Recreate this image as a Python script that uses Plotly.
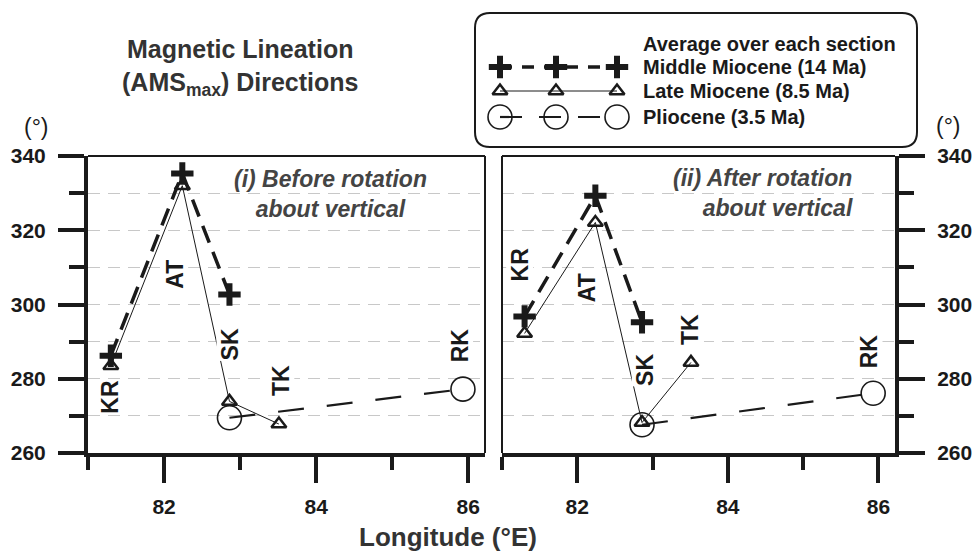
import plotly.graph_objects as go

# ---------------- data ----------------
site_names = ["KR", "AT", "SK", "TK", "RK"]
site_lon = [81.30, 82.24, 82.86, 83.51, 85.93]

mm_idx = [0, 1, 2]      # Middle Miocene sites (KR, AT, SK)
lm_idx = [0, 1, 2, 3]   # Late Miocene sites (KR, AT, SK, TK)
pl_idx = [2, 4]         # Pliocene sites (SK, RK)

mm_before = [286.2, 335.3, 302.7]
lm_before = [283.5, 332.0, 273.9, 267.8]
pl_before = [269.5, 277.2]

mm_after = [296.8, 329.3, 295.2]
lm_after = [292.2, 322.1, 268.2, 284.4]
pl_after = [267.6, 276.1]

x_major = [82, 84, 86]
x_minor = [81, 83, 85]
y_major = [260, 280, 300, 320, 340]
y_minor = [270, 290, 310, 330]

# label anchor positions (lon, deg) for rotated site labels
lab_before = [(81.29, 275.2), (82.14, 308.2), (82.87, 289.3), (83.53, 279.5), (85.89, 289.0)]
lab_after = [(81.24, 310.8), (82.14, 304.6), (82.90, 282.4), (83.50, 293.2), (85.87, 287.3)]

# ---------------- style ----------------
W, H = 974, 551
FONT = "Liberation Sans, Arial, sans-serif"
INK = "#1a1a1a"
GRID = "#c8c8c8"

mm_line = dict(color=INK, width=3.5, dash="18px,10px")
lm_line = dict(color=INK, width=1)
pl_line = dict(color=INK, width=2.2, dash="26px,23px")
mm_marker = dict(symbol="cross-thin", size=16, line=dict(color=INK, width=6), color=INK)
lm_marker = dict(symbol="triangle-up-open", size=13, line=dict(color=INK, width=2.5), color=INK)
pl_marker = dict(symbol="circle-open", size=24, line=dict(color=INK, width=1.6), color=INK)

fig = go.Figure()


def add_panel(xa, ya, mm, lm, pl):
    fig.add_trace(go.Scatter(x=[site_lon[i] for i in lm_idx], y=lm, mode="lines+markers",
                             line=lm_line, marker=lm_marker, xaxis=xa, yaxis=ya,
                             showlegend=False, hoverinfo="skip"))
    fig.add_trace(go.Scatter(x=[site_lon[i] for i in pl_idx], y=pl, mode="lines+markers",
                             line=pl_line, marker=pl_marker, xaxis=xa, yaxis=ya,
                             showlegend=False, hoverinfo="skip"))
    fig.add_trace(go.Scatter(x=[site_lon[i] for i in mm_idx], y=mm, mode="lines+markers",
                             line=mm_line, marker=mm_marker, xaxis=xa, yaxis=ya,
                             showlegend=False, hoverinfo="skip"))


add_panel("x", "y", mm_before, lm_before, pl_before)
add_panel("x2", "y2", mm_after, lm_after, pl_after)

# ---------------- legend sample (pixel canvas axis) ----------------
leg_x = [500, 556, 617]
leg_rows = {"mm": 67, "lm": 91, "pl": 117}
fig.add_trace(go.Scatter(x=leg_x, y=[leg_rows["lm"]] * 3, mode="lines+markers",
                         line=lm_line, marker=lm_marker, xaxis="x3", yaxis="y3",
                         showlegend=False, hoverinfo="skip"))
fig.add_trace(go.Scatter(x=leg_x, y=[leg_rows["pl"]] * 3, mode="lines+markers",
                         line=dict(color=INK, width=2.2, dash="22px,17px"), marker=pl_marker,
                         xaxis="x3", yaxis="y3", showlegend=False, hoverinfo="skip"))
fig.add_trace(go.Scatter(x=leg_x, y=[leg_rows["mm"]] * 3, mode="lines+markers",
                         line=dict(color=INK, width=3.5, dash="12px,10px"), marker=mm_marker,
                         xaxis="x3", yaxis="y3", showlegend=False, hoverinfo="skip"))

# ---------------- axes ----------------
dom_y = [1 - 453 / H, 1 - 156 / H]
dom_x1 = [88 / W, 485 / W]
dom_x2 = [502 / W, 895 / W]
tickfont = dict(family=FONT, size=21, color=INK, weight="bold")

xcommon = dict(range=[81, 86.22], tickvals=x_major, ticktext=[str(v) for v in x_major],
               ticks="outside", ticklen=26, tickwidth=4, tickcolor=INK, automargin=False,
               showline=True, linewidth=4, linecolor=INK, showgrid=False, zeroline=False,
               tickfont=tickfont, ticklabelstandoff=6, fixedrange=True,
               minor=dict(tickvals=x_minor, ticks="outside", ticklen=13, tickwidth=4,
                          tickcolor=INK, showgrid=False))
ycommon = dict(range=[260, 340], tickvals=y_major, ticktext=[str(v) for v in y_major],
               ticks="outside", ticklen=26, tickwidth=4, tickcolor=INK, automargin=False,
               showline=True, linewidth=4, linecolor=INK, zeroline=False,
               showgrid=True, gridcolor=GRID, griddash="12px,8px", gridwidth=1,
               tickfont=tickfont, ticklabelstandoff=8, fixedrange=True,
               minor=dict(tickvals=y_minor, ticks="outside", ticklen=15, tickwidth=4,
                          tickcolor=INK, showgrid=True, gridcolor=GRID, griddash="12px,8px",
                          gridwidth=1))

fig.update_layout(
    width=W, height=H,
    margin=dict(l=0, r=0, t=0, b=0, autoexpand=False),
    paper_bgcolor="white", plot_bgcolor="rgba(0,0,0,0)",
    showlegend=False,
    xaxis=dict(domain=dom_x1, anchor="y", **xcommon),
    yaxis=dict(domain=dom_y, anchor="x", side="left", **ycommon),
    xaxis2=dict(domain=dom_x2, anchor="y2", **xcommon),
    yaxis2=dict(domain=dom_y, anchor="x2", side="right", **ycommon),
    xaxis3=dict(domain=[0, 1], range=[0, W], visible=False, fixedrange=True, anchor="y3",
                automargin=False),
    yaxis3=dict(domain=[0, 1], range=[H, 0], visible=False, fixedrange=True, anchor="x3",
                automargin=False),
)

# ---------------- frame lines ----------------
shapes = [
    dict(type="line", xref="x domain", yref="y domain", x0=0, x1=1, y0=1, y1=1,
         line=dict(color=INK, width=2)),
    dict(type="line", xref="x domain", yref="y domain", x0=1, x1=1, y0=0, y1=1,
         line=dict(color=INK, width=2)),
    dict(type="line", xref="x2 domain", yref="y2 domain", x0=0, x1=1, y0=1, y1=1,
         line=dict(color=INK, width=2)),
    dict(type="line", xref="x2 domain", yref="y2 domain", x0=0, x1=0, y0=0, y1=1,
         line=dict(color=INK, width=2)),
    dict(type="path", xref="x3", yref="y3",
         path="M 490,13 L 902,13 Q 917,13 917,28 L 917,132 Q 917,147 902,147 "
              "L 490,147 Q 475,147 475,132 L 475,28 Q 475,13 490,13 Z",
         line=dict(color=INK, width=2), fillcolor="rgba(0,0,0,0)"),
]
fig.update_layout(shapes=shapes)

# ---------------- annotations ----------------
ann = []


def paper_text(text, px, py, size, color=INK, xanchor="center", bold=True, italic=False,
               align="center"):
    t = text
    if bold:
        t = "<b>" + t + "</b>"
    if italic:
        t = "<i>" + t + "</i>"
    ann.append(dict(text=t, x=px / W, y=1 - py / H, xref="paper", yref="paper",
                    xanchor=xanchor, yanchor="middle", showarrow=False, align=align,
                    font=dict(family=FONT, size=size, color=color)))


paper_text("Magnetic Lineation<br>(AMS<sub>max</sub>) Directions", 240, 68, 25, color="#333333")
paper_text("(°)", 36, 127, 23, bold=False)
paper_text("(°)", 948, 126, 23, bold=False)
paper_text("(i) Before rotation<br>about vertical", 330, 194, 23, color="#444444", italic=True)
paper_text("(ii) After rotation<br>about vertical", 855, 193, 23, color="#444444", italic=True,
           xanchor="right", align="right")
paper_text("Longitude (°E)", 448, 537, 26, color="#333333")

leg_text_x = 641
paper_text("Average over each section", leg_text_x, 44, 20, xanchor="left")
paper_text("Middle Miocene (14 Ma)", leg_text_x, 67, 20, xanchor="left")
paper_text("Late Miocene (8.5 Ma)", leg_text_x, 91, 20, xanchor="left")
paper_text("Pliocene (3.5 Ma)", leg_text_x, 117, 20, xanchor="left")

for (lx, ly), name in zip(lab_before, site_names):
    ann.append(dict(text="<b>" + name + "</b>", x=lx, y=ly, xref="x", yref="y",
                    showarrow=False, textangle=-90, bgcolor="white", borderpad=0,
                    font=dict(family=FONT, size=23, color=INK)))
for (lx, ly), name in zip(lab_after, site_names):
    ann.append(dict(text="<b>" + name + "</b>", x=lx, y=ly, xref="x2", yref="y2",
                    showarrow=False, textangle=-90, bgcolor="white", borderpad=0,
                    font=dict(family=FONT, size=23, color=INK)))

fig.update_layout(annotations=ann)

fig.write_html("out.html", config={"displayModeBar": False},
               post_script="document.body.style.margin='0';")
